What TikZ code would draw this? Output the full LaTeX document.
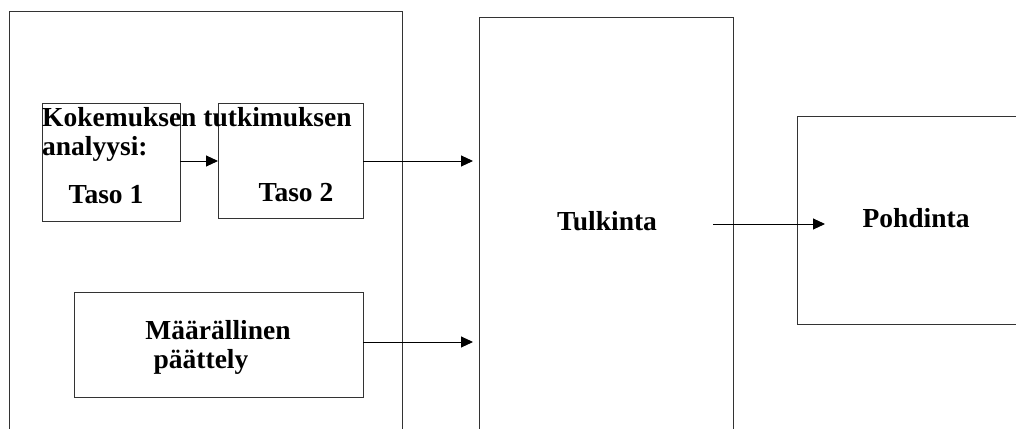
\documentclass[tikz,border=0pt]{standalone}
\usepackage{fontspec}
\setmainfont{Liberation Serif}
\usetikzlibrary{arrows.meta}
\begin{document}
\begin{tikzpicture}[x=1pt,y=-1pt,
  box/.style={draw=black!80, line width=1pt, rectangle, inner sep=0pt},
  lbl/.style={inner sep=0pt, font=\fontsize{27.5}{30}\selectfont\bfseries},
  arr/.style={draw=black, line width=1pt, -{Triangle[length=12pt,width=11pt]}}]
\useasboundingbox (0,0) rectangle (1016,428);
\clip (0,0) rectangle (1016,428);
% boxes
\node[box, minimum width=393pt, minimum height=428pt] (big) at (205.5,226) {};
\node[box, minimum width=254pt, minimum height=422pt] (mid) at (606,229) {};
\node[box, minimum width=233pt, minimum height=208pt] (rgt) at (913.5,220) {};
\node[box, minimum width=138pt, minimum height=118pt] (t1) at (111,162) {};
\node[box, minimum width=145pt, minimum height=115pt] (t2) at (290.5,160.5) {};
\node[box, minimum width=289pt, minimum height=105pt] (mb) at (218.5,344.5) {};
% texts
\node[lbl, anchor=base west] (k1) at (42,126) {Kokemuksen tutkimuksen};
\node[lbl, anchor=base west] (k2) at (42,155) {analyysi:};
\node[lbl, anchor=base] (ta1) at (106,203) {Taso 1};
\node[lbl, anchor=base] (ta2) at (296,201) {Taso 2};
\node[lbl, anchor=base] (m1) at (218,339) {Määrällinen};
\node[lbl, anchor=base] (m2) at (201,368) {päättely};
\node[lbl, anchor=base] (tul) at (607,230) {Tulkinta};
\node[lbl, anchor=base] (poh) at (916,227) {Pohdinta};
% connectors
\coordinate (a1) at (180,161);
\coordinate (a2) at (218,161);
\coordinate (b1) at (363,161);
\coordinate (b2) at (473,161);
\coordinate (c1) at (363,342);
\coordinate (c2) at (473,342);
\coordinate (d1) at (713,224);
\coordinate (d2) at (825,224);
\draw[arr] (a1) -- (a2);
\draw[arr] (b1) -- (b2);
\draw[arr] (c1) -- (c2);
\draw[arr] (d1) -- (d2);
\end{tikzpicture}
\end{document}
